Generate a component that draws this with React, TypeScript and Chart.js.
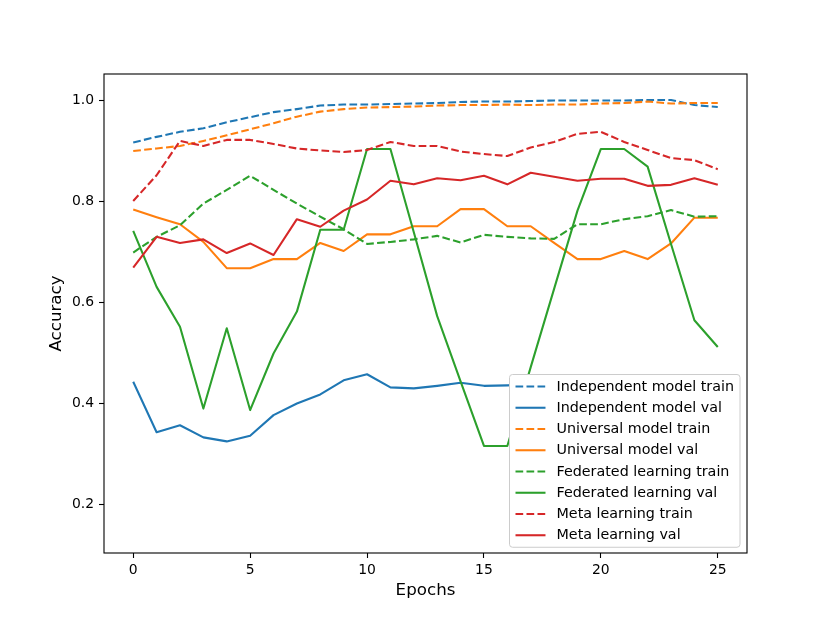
import React, { useEffect, useRef } from "react";
import { Chart, registerables } from "chart.js";

Chart.register(...registerables);

const epochs = [0, 1, 2, 3, 4, 5, 6, 7, 8, 9, 10, 11, 12, 13, 14, 15, 16, 17, 18, 19, 20, 21, 22, 23, 24, 25];

const independentTrain = [0.916, 0.927, 0.937, 0.944, 0.956, 0.966, 0.976, 0.982, 0.989, 0.991, 0.991, 0.992, 0.993, 0.994, 0.996, 0.997, 0.997, 0.998, 0.999, 0.999, 0.999, 0.999, 1.0, 1.0, 0.99, 0.986];
const independentVal = [0.442, 0.342, 0.356, 0.332, 0.324, 0.335, 0.376, 0.399, 0.417, 0.445, 0.457, 0.431, 0.429, 0.434, 0.44, 0.434, 0.435, 0.437, 0.439, 0.441, 0.438, 0.442, 0.44, 0.443, 0.441, 0.444];
const universalTrain = [0.899, 0.904, 0.909, 0.919, 0.93, 0.942, 0.954, 0.967, 0.977, 0.982, 0.985, 0.986, 0.987, 0.989, 0.99, 0.99, 0.991, 0.99, 0.991, 0.991, 0.993, 0.994, 0.997, 0.993, 0.994, 0.994];
const universalVal = [0.783, 0.768, 0.754, 0.719, 0.667, 0.667, 0.685, 0.685, 0.717, 0.701, 0.734, 0.734, 0.75, 0.75, 0.784, 0.784, 0.75, 0.75, 0.717, 0.685, 0.685, 0.701, 0.685, 0.716, 0.767, 0.767];
const federatedTrain = [0.698, 0.729, 0.752, 0.795, 0.822, 0.85, 0.822, 0.795, 0.769, 0.744, 0.715, 0.719, 0.724, 0.731, 0.718, 0.733, 0.729, 0.726, 0.725, 0.754, 0.754, 0.764, 0.77, 0.782, 0.769, 0.77];
const federatedVal = [0.741, 0.63, 0.551, 0.389, 0.548, 0.386, 0.498, 0.581, 0.743, 0.743, 0.903, 0.903, 0.738, 0.572, 0.443, 0.315, 0.315, 0.471, 0.626, 0.781, 0.903, 0.903, 0.868, 0.715, 0.564, 0.511];
const metaTrain = [0.8, 0.851, 0.919, 0.909, 0.921, 0.921, 0.913, 0.904, 0.9, 0.897, 0.901, 0.917, 0.909, 0.909, 0.898, 0.893, 0.889, 0.906, 0.917, 0.933, 0.937, 0.917, 0.901, 0.885, 0.881, 0.863];
const metaVal = [0.668, 0.729, 0.717, 0.724, 0.697, 0.716, 0.693, 0.764, 0.749, 0.781, 0.803, 0.84, 0.833, 0.845, 0.841, 0.85, 0.833, 0.856, 0.848, 0.84, 0.844, 0.844, 0.83, 0.832, 0.845, 0.832];

const seriesValues = [independentTrain, independentVal, universalTrain, universalVal, federatedTrain, federatedVal, metaTrain, metaVal];
const seriesLabels = [
  "Independent model train",
  "Independent model val",
  "Universal model train",
  "Universal model val",
  "Federated learning train",
  "Federated learning val",
  "Meta learning train",
  "Meta learning val",
];
const seriesColors = ["#1f77b4", "#1f77b4", "#ff7f0e", "#ff7f0e", "#2ca02c", "#2ca02c", "#d62728", "#d62728"];
const seriesDashed = [true, false, true, false, true, false, true, false];

const xTicks = [0, 5, 10, 15, 20, 25];
const yTicks = [0.2, 0.4, 0.6, 0.8, 1.0];

const FONT = "'DejaVu Sans', 'Liberation Sans', sans-serif";
const LW = 2.08;
const DASH = [7.7, 3.3];

const framePlugin = {
  id: "mplFrame",
  afterDatasetsDraw(chart: any) {
    const { ctx, chartArea } = chart;
    ctx.save();
    ctx.strokeStyle = "#000";
    ctx.lineWidth = 1.1;
    ctx.setLineDash([]);
    ctx.strokeRect(chartArea.left, chartArea.top, chartArea.right - chartArea.left, chartArea.bottom - chartArea.top);
    ctx.restore();
  },
};

const legendPlugin = {
  id: "mplLegend",
  afterDraw(chart: any) {
    const { ctx, chartArea } = chart;
    ctx.save();
    ctx.font = `14.3px ${FONT}`;
    let maxW = 0;
    seriesLabels.forEach((l) => {
      maxW = Math.max(maxW, ctx.measureText(l).width);
    });
    const pad = 6;
    const handle = 30;
    const gap = 11;
    const rowH = 21.25;
    const vpad = 12;
    const w = pad + handle + gap + maxW + pad;
    const h = vpad * 2 + rowH * (seriesLabels.length - 1);
    const right = chartArea.right - 7;
    const bottom = chartArea.bottom - 6;
    const x = Math.round(right - w) + 0.5;
    const y = Math.round(bottom - h) + 0.5;
    ctx.beginPath();
    if ((ctx as any).roundRect) {
      (ctx as any).roundRect(x, y, w, h, 3);
    } else {
      ctx.rect(x, y, w, h);
    }
    ctx.fillStyle = "rgba(255,255,255,1)";
    ctx.fill();
    ctx.strokeStyle = "#cccccc";
    ctx.lineWidth = 1;
    ctx.stroke();
    seriesLabels.forEach((label, i) => {
      const cy = y + vpad + i * rowH;
      ctx.beginPath();
      ctx.setLineDash(seriesDashed[i] ? DASH : []);
      ctx.strokeStyle = seriesColors[i];
      ctx.lineWidth = LW;
      ctx.lineCap = "butt";
      ctx.moveTo(x + pad, cy);
      ctx.lineTo(x + pad + handle, cy);
      ctx.stroke();
      ctx.setLineDash([]);
      ctx.fillStyle = "#000";
      ctx.textAlign = "left";
      ctx.textBaseline = "middle";
      ctx.fillText(label, x + pad + handle + gap, cy + 0.5);
    });
    ctx.restore();
  },
};

export default function App() {
  const canvasRef = useRef<HTMLCanvasElement | null>(null);

  useEffect(() => {
    const canvas = canvasRef.current;
    if (!canvas) return;
    const datasets = seriesValues.map((vals, i) => ({
      label: seriesLabels[i],
      data: epochs.map((e, j) => ({ x: e, y: vals[j] })),
      borderColor: seriesColors[i],
      backgroundColor: seriesColors[i],
      borderWidth: LW,
      borderDash: seriesDashed[i] ? DASH : [],
      borderCapStyle: "butt" as const,
      borderJoinStyle: "round" as const,
      pointRadius: 0,
      pointHoverRadius: 0,
      tension: 0,
      fill: false,
      order: seriesValues.length - i,
    }));

    const chart = new Chart(canvas, {
      type: "line",
      data: { datasets },
      options: {
        animation: false,
        responsive: false,
        devicePixelRatio: 1,
        events: [],
        layout: { padding: { left: 0, right: 83, top: 74, bottom: 0 } },
        plugins: {
          legend: { display: false },
          tooltip: { enabled: false },
        },
        scales: {
          x: {
            type: "linear",
            min: -1.25,
            max: 26.25,
            afterBuildTicks: (scale: any) => {
              scale.ticks = xTicks.map((v) => ({ value: v }));
            },
            afterFit: (scale: any) => {
              scale.height = 70;
            },
            ticks: {
              color: "#000",
              font: { family: FONT, size: 13.9 },
              padding: 4,
              maxRotation: 0,
              autoSkip: false,
              callback: (v: any) => String(v),
            },
            grid: {
              display: true,
              drawOnChartArea: false,
              drawTicks: true,
              tickLength: 5,
              tickColor: "#000",
              tickWidth: 1.1,
            },
            border: { display: false },
            title: {
              display: true,
              text: "Epochs",
              color: "#000",
              font: { family: FONT, size: 16.7 },
              padding: { top: 0, bottom: 22 },
            },
          },
          y: {
            type: "linear",
            min: 0.103,
            max: 1.0515,
            afterBuildTicks: (scale: any) => {
              scale.ticks = yTicks.map((v) => ({ value: v }));
            },
            afterFit: (scale: any) => {
              scale.width = 104;
            },
            ticks: {
              color: "#000",
              font: { family: FONT, size: 13.9 },
              padding: 5,
              autoSkip: false,
              callback: (v: any) => Number(v).toFixed(1),
            },
            grid: {
              display: true,
              drawOnChartArea: false,
              drawTicks: true,
              tickLength: 5,
              tickColor: "#000",
              tickWidth: 1.1,
            },
            border: { display: false },
            title: {
              display: true,
              text: "Accuracy",
              color: "#000",
              font: { family: FONT, size: 16.7 },
              padding: { top: 47, bottom: 0 },
            },
          },
        },
      },
      plugins: [framePlugin, legendPlugin],
    });

    return () => {
      chart.destroy();
    };
  }, []);

  return (
    <div style={{ position: "absolute", left: 0, top: 0, width: 830, height: 623, background: "#fff" }}>
      <canvas ref={canvasRef} width={830} height={623} style={{ width: 830, height: 623, display: "block" }} />
    </div>
  );
}
